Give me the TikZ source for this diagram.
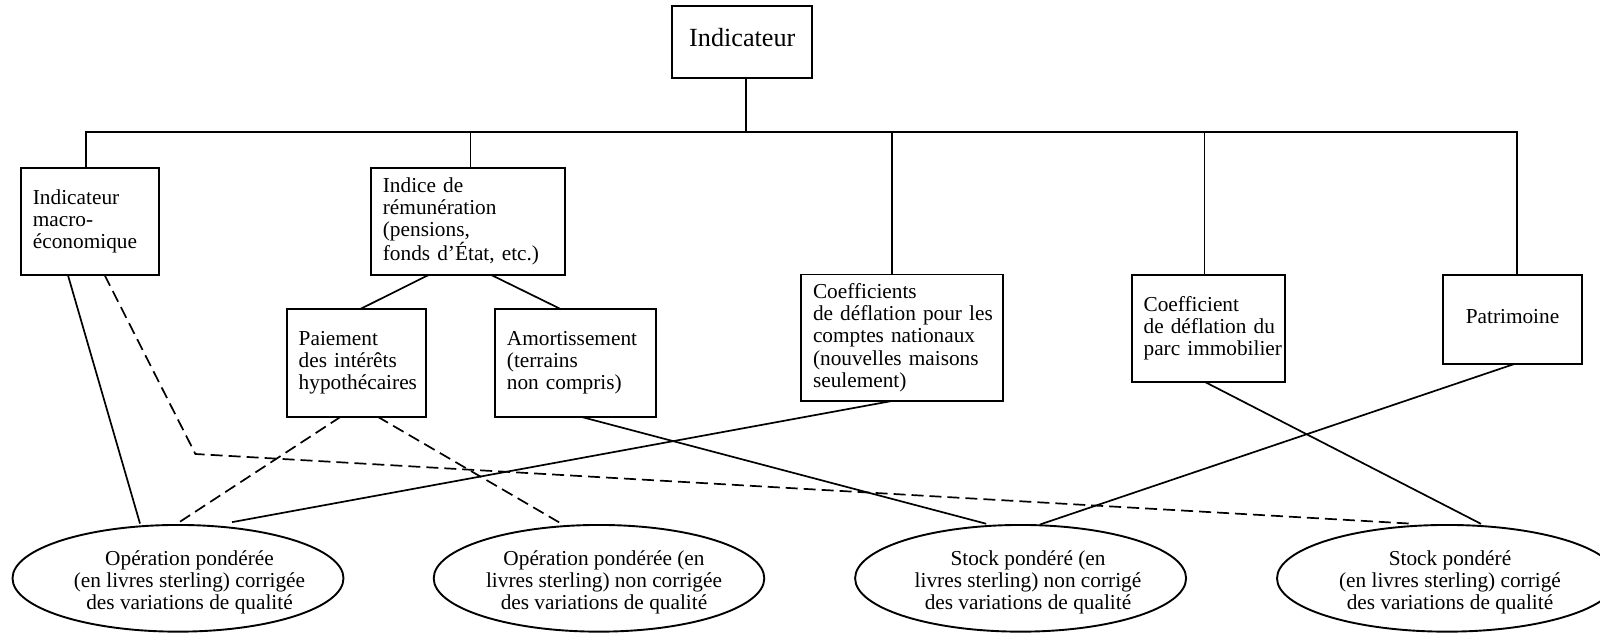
\documentclass[tikz,border=0pt]{standalone}
\usepackage{fontspec}
\setmainfont{Liberation Serif}
\usetikzlibrary{shapes.geometric}
\newcommand\dgtxt{\fontsize{21.3pt}{22.1pt}\selectfont\hyphenpenalty=10000\exhyphenpenalty=10000}
\newcommand\dgbig{\fontsize{26.2pt}{28pt}\selectfont}
\tikzset{
  box/.style={draw, line width=1.9pt, inner xsep=12pt, inner ysep=0pt, outer sep=0pt, align=left, font=\dgtxt},
  topbox/.style={draw, line width=1.9pt, inner sep=0pt, outer sep=0pt, font=\dgbig, align=center},
  ell/.style={draw, ellipse, line width=1.9pt, inner sep=0pt, outer sep=0pt, minimum height=106.7pt},
  lbl/.style={align=center, inner sep=0pt, font=\dgtxt},
  link/.style={line width=1.7pt},
  dlink/.style={line width=1.7pt, dash pattern=on 12pt off 6pt},
}
\begin{document}
\begin{tikzpicture}[x=1pt,y=-1pt]
\useasboundingbox (0,0) rectangle (1600,634);
\clip (0,0) rectangle (1600,634);

% boxes
\node[topbox, minimum width=140pt, minimum height=72.3pt, text depth=8.8pt] (T) at (742.3,42.15) {Indicateur};
\node[box, text width=114.3pt, minimum height=107.3pt] (A) at (90.05,221.35) {Indicateur\\macro-\\économique};
\node[box, text width=170.4pt, minimum height=107.3pt] (B) at (468.1,221.35) {Indice~de\\rémunération\\(pensions,\\fonds~d’État,~etc.)};
\node[box, text width=178pt, minimum height=126.5pt] (C) at (902,337.75) {Coefficients\\de~déflation~pour~les\\comptes~nationaux\\(nouvelles~maisons\\seulement)};
\node[box, text width=129.1pt, minimum height=107.3pt] (D) at (1208.15,328.65) {Coefficient\\de~déflation~du\\parc~immobilier};
\node[box, align=center, text width=115.2pt, minimum height=89pt, text depth=7pt] (E) at (1512.5,319.5) {Patrimoine};
\node[box, text width=115.3pt, minimum height=107.4pt] (P) at (356.35,363) {Paiement\\des~intérêts\\hypothécaires};
\node[box, text width=136.7pt, minimum height=107.4pt] (M) at (575.25,363) {Amortissement\\(terrains\\non~compris)};

% ellipses
\node[ell, minimum width=331pt] (e1) at (178,578.3) {};
\node[ell, minimum width=330.6pt] (e2) at (599,578.3) {};
\node[ell, minimum width=331pt] (e3) at (1020.6,578.3) {};
\node[ell, minimum width=340pt] (e4) at (1447,578.3) {};
\node[lbl] (t1) at (189.5,582) {Opération pondérée\\(en livres sterling) corrigée\\des variations de qualité};
\node[lbl] (t2) at (604,582) {Opération pondérée (en\\livres sterling) non corrigée\\des variations de qualité};
\node[lbl] (t3) at (1028,582) {Stock pondéré (en\\livres sterling) non corrigé\\des variations de qualité};
\node[lbl] (t4) at (1450,582) {Stock pondéré\\(en livres sterling) corrigé\\des variations de qualité};

\coordinate (bar) at (746,131.7);
\coordinate (bend) at (195.4,454);

% tree
\draw[link] ([xshift=3.7pt]T.south) -- ([xshift=3.7pt]T.south |- bar);
\draw[link] ([xshift=-4.35pt]A.north) -- ([xshift=-4.35pt]A.north |- bar) -- ([xshift=4.3pt]E.north |- bar) -- ([xshift=4.3pt]E.north);
\draw[link] ([xshift=2.3pt]B.north) -- ([xshift=2.3pt]B.north |- bar);
\draw[link] ([xshift=-9.7pt]C.north) -- ([xshift=-9.7pt]C.north |- bar);
\draw[link] ([xshift=-3.55pt]D.north) -- ([xshift=-3.55pt]D.north |- bar);

% sub links
\draw[link] ([xshift=-39.5pt]B.south) -- ([xshift=3.35pt]P.north);
\draw[link] ([xshift=23.2pt]B.south) -- ([xshift=-14.05pt]M.north);

% links to ellipses
\draw[link] ([xshift=-22.15pt]A.south) -- ([xshift=-38pt,yshift=1.4pt]e1.north);
\draw[dlink] ([xshift=14.55pt]A.south) -- (bend) -- ([xshift=-37.3pt,yshift=1.4pt]e4.north);
\draw[dlink] ([xshift=-15.55pt]P.south) -- ([xshift=-3pt]e1.north);
\draw[dlink] ([xshift=21.25pt]P.south) -- ([xshift=-37.8pt,yshift=1.4pt]e2.north);
\draw[link] ([xshift=5.35pt]M.south) -- ([xshift=-34.4pt,yshift=1.2pt]e3.north);
\draw[link] ([xshift=-10.2pt]C.south) -- ([xshift=54pt,yshift=2.8pt]e1.north);
\draw[link] ([xshift=-2.55pt]D.south) -- ([xshift=34pt,yshift=1.1pt]e4.north);
\draw[link] ([xshift=1.8pt]E.south) -- ([xshift=19.2pt,yshift=0.4pt]e3.north);
\end{tikzpicture}
\end{document}
